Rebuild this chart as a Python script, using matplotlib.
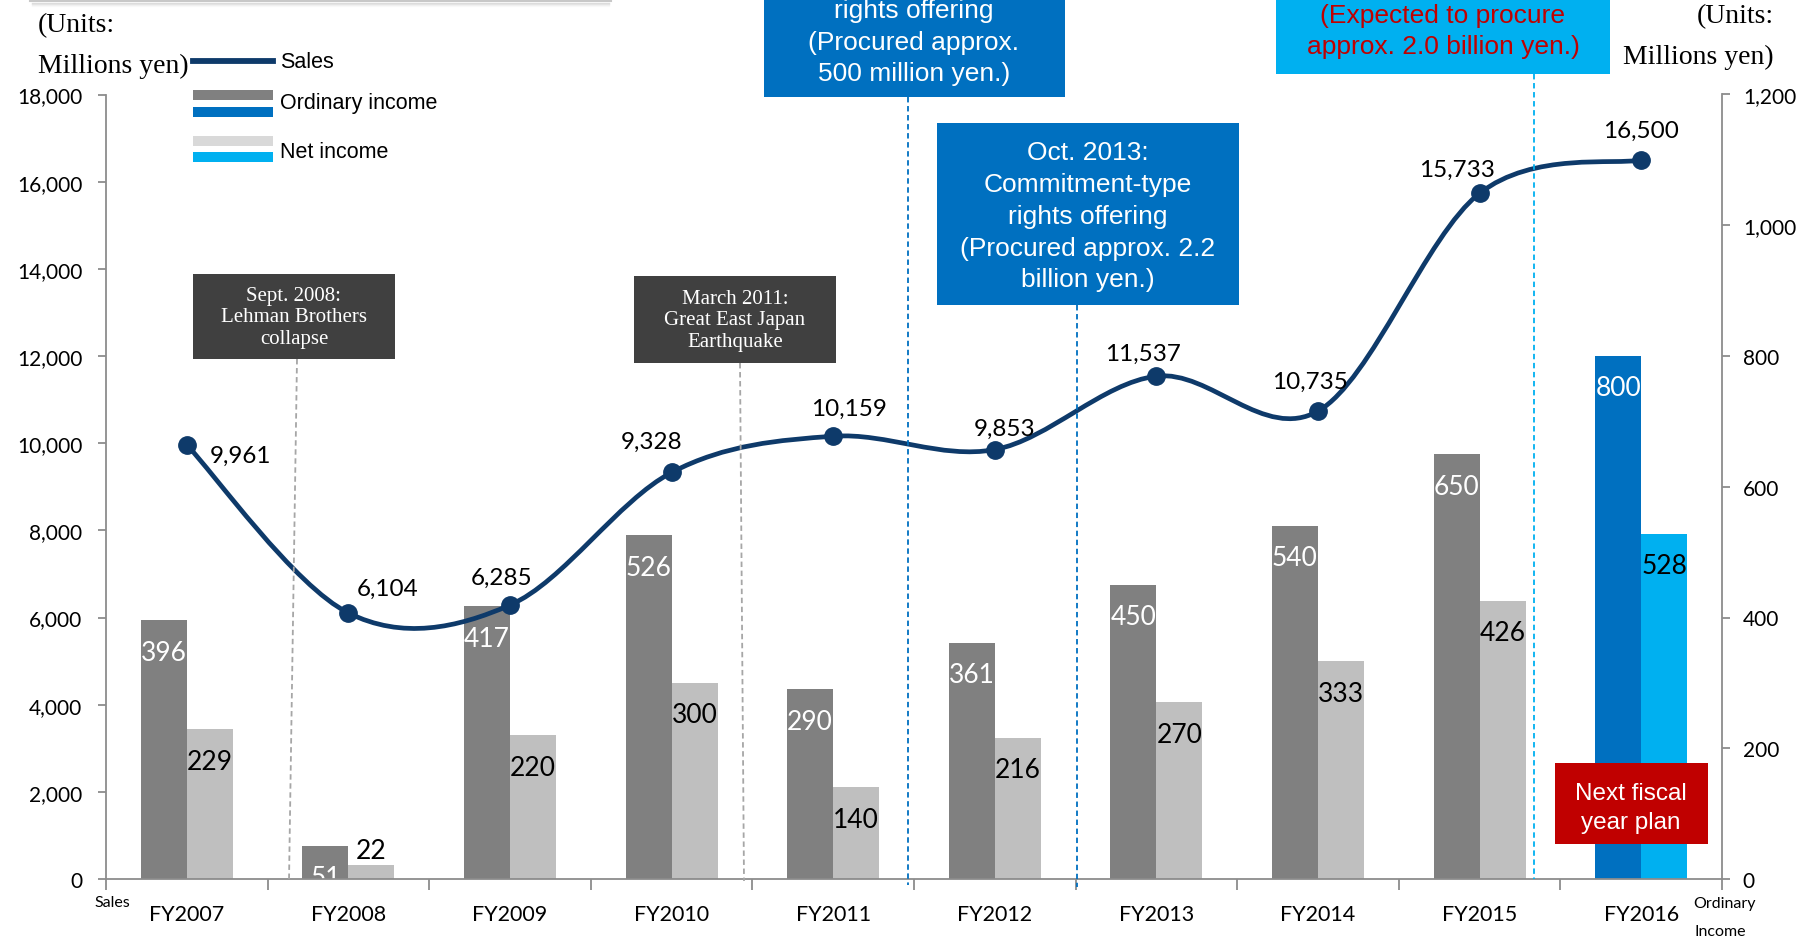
import numpy as np
import matplotlib.pyplot as plt
from matplotlib.path import Path
from matplotlib.patches import PathPatch, Rectangle
from matplotlib.lines import Line2D
from matplotlib.ticker import FuncFormatter

# Results by fiscal year (millions of yen)
years = ['FY2007', 'FY2008', 'FY2009', 'FY2010', 'FY2011',
         'FY2012', 'FY2013', 'FY2014', 'FY2015', 'FY2016']
sales = [9961, 6104, 6285, 9328, 10159, 9853, 11537, 10735, 15733, 16500]
ordinary_income = [396, 51, 417, 526, 290, 361, 450, 540, 650, 800]
net_income = [229, 22, 220, 300, 140, 216, 270, 333, 426, 528]
plan_year = 'FY2016'

# Offsets (pixels) of the sales value labels from their markers
sales_label_offsets = [(54, -10), (39, 25), (-8, 28), (-20, 31), (16, 28),
                       (10, 21), (-13, 23), (-8, 30), (-23, 24), (0, 30)]

NAVY = '#0e3a6a'
GRAY = '#808080'
LIGHT = '#bfbfbf'
BLUE = '#0070c0'
CYAN = '#00b0f0'
RED = '#c00000'
SPINE = '#8c8c8c'
NUM_FONT = 'Lato'
SANS = 'Liberation Sans'
SERIF = 'Liberation Serif'

W, H = 1804, 937
fig = plt.figure(figsize=(W / 100, H / 100), dpi=100)


def fx(px):
    return px / W


def fy(py):
    return 1 - py / H


def fig_box(x0, y0, x1, y1, color):
    fig.add_artist(Rectangle((fx(x0), fy(y1)), (x1 - x0) / W, (y1 - y0) / H,
                             transform=fig.transFigure, facecolor=color,
                             edgecolor='none', zorder=5))


def fig_lines(lines, x, ys, **kw):
    for s, y in zip(lines, ys):
        fig.text(fx(x), fy(y), s, ha='center', va='center', zorder=6, **kw)


def fig_dash(x0, y0, x1, y1, color):
    fig.add_artist(Line2D([fx(x0), fx(x1)], [fy(y0), fy(y1)],
                          transform=fig.transFigure, color=color, lw=1.3,
                          ls=(0, (3, 2)), zorder=3))


# Axes: sales on the left, income on the right
ax = fig.add_axes([fx(106), fy(880), (1722 - 106) / W, (880 - 95.5) / H])
ax2 = ax.twinx()
ax.set_zorder(ax2.get_zorder() + 1)
ax.patch.set_visible(False)

x = np.arange(len(years))
w = 0.285
is_plan = [y == plan_year for y in years]
ord_colors = [BLUE if p else GRAY for p in is_plan]
net_colors = [CYAN if p else LIGHT for p in is_plan]
ax2.bar(x - w / 2, ordinary_income, width=w, color=ord_colors)
ax2.bar(x + w / 2, net_income, width=w, color=net_colors)

for xi, v in zip(x, ordinary_income):
    ax2.annotate(str(v), (xi - w / 2, v), xytext=(0, -32),
                 textcoords='offset pixels', ha='center', va='center',
                 fontsize=19, family=NUM_FONT, color='white')
for xi, v in zip(x, net_income):
    dy = 14 if v < 30 else -32
    ax2.annotate(str(v), (xi + w / 2, v), xytext=(0, dy),
                 textcoords='offset pixels', ha='center', va='center',
                 fontsize=19, family=NUM_FONT, color='black')

# Smoothed sales line (Catmull-Rom style Bezier through the points)
pts = np.column_stack([x, sales]).astype(float)
ext = np.vstack([pts[0], pts, pts[-1]])
verts = [pts[0]]
codes = [Path.MOVETO]
for i in range(len(pts) - 1):
    p0, p1, p2, p3 = ext[i], ext[i + 1], ext[i + 2], ext[i + 3]
    verts += [p1 + (p2 - p0) / 6, p2 - (p3 - p1) / 6, p2]
    codes += [Path.CURVE4] * 3
ax.add_patch(PathPatch(Path(verts, codes), facecolor='none', edgecolor=NAVY,
                       lw=3.4, capstyle='round', zorder=3))
ax.plot(x, sales, 'o', ms=12.5, color=NAVY, zorder=4)
for xi, v, off in zip(x, sales, sales_label_offsets):
    ax.annotate(f'{v:,}', (xi, v), xytext=off, textcoords='offset pixels',
                ha='center', va='center', fontsize=17.5, family=NUM_FONT,
                zorder=5)

# Axis scales and ticks
ax.set_xlim(-0.5, len(years) - 0.5)
ax.set_ylim(0, 18000)
ax2.set_ylim(0, 1200)
ax.set_yticks(np.arange(0, 18001, 2000))
ax2.set_yticks(np.arange(0, 1201, 200))
comma = FuncFormatter(lambda v, p: f'{int(v):,}')
ax.yaxis.set_major_formatter(comma)
ax2.yaxis.set_major_formatter(comma)

ax.set_xticks(np.arange(-0.5, len(years), 1))
ax.set_xticklabels([])
ax.set_xticks(x, minor=True)
ax.set_xticklabels(years, minor=True)
ax.tick_params(axis='x', which='major', direction='out', length=8,
               width=1.3, color=SPINE)
ax.tick_params(axis='x', which='minor', length=0, pad=18, labelsize=15.5)
ax.tick_params(axis='y', direction='out', length=6, width=1.3, color=SPINE,
               pad=11, labelsize=15)
ax2.tick_params(axis='y', direction='out', length=6, width=1.3, color=SPINE,
                pad=9, labelsize=15)
for lab in ax.get_xticklabels(minor=True) + ax.get_yticklabels() + ax2.get_yticklabels():
    lab.set_family(NUM_FONT)

for a in (ax, ax2):
    for s in a.spines.values():
        s.set_color(SPINE)
        s.set_linewidth(1.3)
    a.spines['top'].set_visible(False)
ax.spines['right'].set_visible(False)
ax2.spines['left'].set_visible(False)
ax2.spines['bottom'].set_visible(False)

fig.text(fx(112), fy(903), 'Sales', ha='center', va='center',
         fontsize=11.5, family=NUM_FONT)
fig.text(fx(1724), fy(904), 'Ordinary', ha='center', va='center',
         fontsize=11.5, family=NUM_FONT)
fig.text(fx(1720), fy(932), 'Income', ha='center', va='center',
         fontsize=11.5, family=NUM_FONT)

# Units
fig.text(fx(38), fy(26), '(Units:', ha='left', va='center', fontsize=20,
         family=SERIF)
fig.text(fx(38), fy(66), 'Millions yen)', ha='left', va='center',
         fontsize=20, family=SERIF)
fig.text(fx(1774), fy(17), '(Units:', ha='right', va='center', fontsize=20,
         family=SERIF)
fig.text(fx(1774), fy(57), 'Millions yen)', ha='right', va='center',
         fontsize=20, family=SERIF)

# Edge of the panel above, with its shadow
fig.add_artist(Line2D([fx(30), fx(611)], [fy(2), fy(2)],
                      transform=fig.transFigure, color='#c8c8c8', lw=1.5))
for k, a in enumerate([0.25, 0.15, 0.08, 0.04]):
    fig.add_artist(Line2D([fx(32), fx(609)], [fy(4 + k), fy(4 + k)],
                          transform=fig.transFigure, color='gray', lw=1,
                          alpha=a))

# Legend
fig.add_artist(Line2D([fx(193), fx(273)], [fy(62), fy(62)],
                      transform=fig.transFigure, color=NAVY, lw=4.2))
fig_box(193, 91, 273, 101, GRAY)
fig_box(193, 108, 273, 118, BLUE)
fig_box(193, 137, 273, 147, '#d9d9d9')
fig_box(193, 153, 273, 163, CYAN)
for s, y in [('Sales', 62), ('Ordinary income', 104), ('Net income', 152)]:
    fig.text(fx(280), fy(y), s, ha='left', va='center', fontsize=15.5,
             family=SANS)

# Event boxes
fig_dash(297, 360, 289, 882, '#a6a6a6')
fig_box(193, 275, 395, 360, '#404040')
fig_lines(['Sept. 2008:', 'Lehman Brothers', 'collapse'], 294,
          [297, 318, 340], color='white', fontsize=15, family=SERIF)

fig_dash(740, 364, 744, 882, '#a6a6a6')
fig_box(634, 277, 836, 364, '#404040')
fig_lines(['March 2011:', 'Great East Japan', 'Earthquake'], 735,
          [299, 321, 343], color='white', fontsize=15, family=SERIF)

fig_dash(908, 98, 908, 886, BLUE)
fig_box(764, 0, 1065, 98, BLUE)
fig_lines(['rights offering', '(Procured approx.', '500 million yen.)'], 914,
          [11, 43, 74], color='white', fontsize=19, family=SANS)

fig_dash(1077, 306, 1077, 888, BLUE)
fig_box(937, 124, 1239, 306, BLUE)
fig_lines(['Oct. 2013:', 'Commitment-type', 'rights offering',
           '(Procured approx. 2.2', 'billion yen.)'], 1088,
          [153, 185, 217, 249, 280], color='white', fontsize=19,
          family=SANS)

fig_dash(1534, 75, 1534, 880, CYAN)
fig_box(1276, 0, 1610, 75, CYAN)
fig_lines(['(Expected to procure', 'approx. 2.0 billion yen.)'], 1443,
          [16, 47], color=RED, fontsize=19, family=SANS)

fig_box(1555, 764, 1708, 845, RED)
fig_lines(['Next fiscal', 'year plan'], 1631, [794, 823], color='white',
          fontsize=17.5, family=SANS)

fig.savefig('out.png', dpi=100)
